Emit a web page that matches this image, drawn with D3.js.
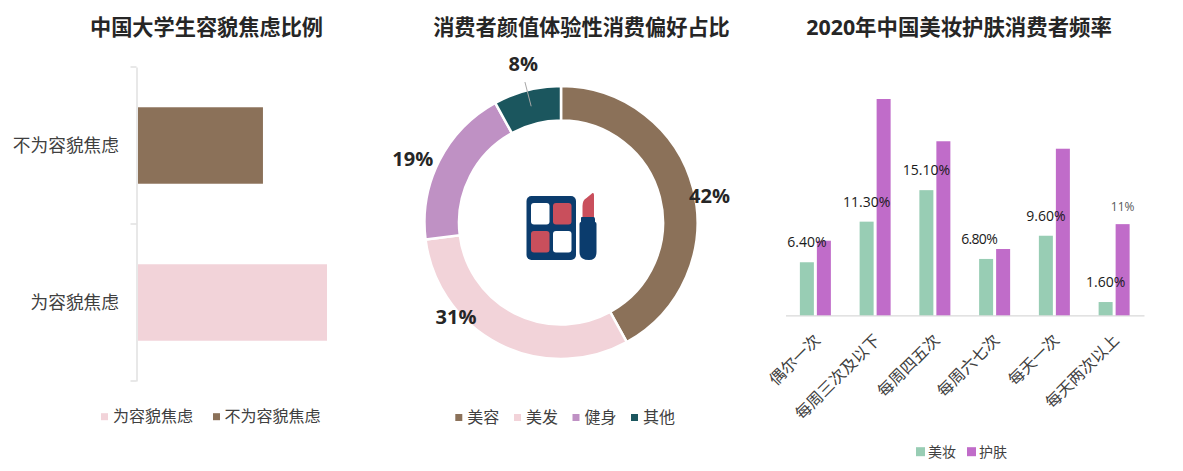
<!DOCTYPE html>
<html><head><meta charset="utf-8">
<script src="https://cdn.jsdelivr.net/npm/d3@7/dist/d3.min.js"></script>
<style>
html,body{margin:0;padding:0;background:#fff;}
svg{display:block;}
text{font-family:"Open Sans","Noto Sans CJK SC",sans-serif;}
</style></head><body>
<svg id="c" width="1183" height="471"></svg>
<script>
// ---- Data ----
const anxietyCats = ["不为容貌焦虑","为容貌焦虑"];
const anxietyVals = [39.8,60.2];
const anxietyLegend = ["为容貌焦虑","不为容貌焦虑"];
const donutCats = ["美容","美发","健身","其他"];
const donutVals = [42,31,19,8];
const donutLabels = ["42%","31%","19%","8%"];
const freqCats = ["偶尔一次","每周三次及以下","每周四五次","每周六七次","每天一次","每天两次以上"];
const makeupVals = [6.4,11.3,15.1,6.8,9.6,1.6];
const makeupLabels = ["6.40%","11.30%","15.10%","6.80%","9.60%","1.60%"];
const skinVals = [9,26.1,21,8,20.1,11];
const freqSeries = ["美妆","护肤"];

const BROWN="#8B7159",PINK="#F2D3D9",PURPLE="#BF91C4",TEAL="#1B565E",GREEN="#98CDB4",VIOLET="#C06CC9";
const AXIS="#d9d9d9",INK="#404040",DARK="#262626";
const svg=d3.select("#c");

function title(x,t,s){svg.append("text").attr("x",x).attr("y",34.5).attr("text-anchor","middle")
  .attr("font-size",s).attr("font-weight",700).attr("fill",DARK).text(t);}
function legend(items,y,size,box){items.forEach(d=>{
  svg.append("rect").attr("x",d.x).attr("y",y-box/2).attr("width",box).attr("height",box).attr("fill",d.c);
  svg.append("text").attr("x",d.x+box+d.g).attr("y",y).attr("dy","0.36em").attr("font-size",size).attr("fill",INK).text(d.t);
});}

// ---- Left: horizontal bars ----
title(206.5,"中国大学生容貌焦虑比例",21.2);
const y1=d3.scaleBand().domain(anxietyCats).range([67,381]).paddingInner(.513).paddingOuter(.2565);
const x1=d3.scaleLinear().domain([0,60.2]).range([138,327]);
const step1=y1.step();
const ax1=svg.append("g").attr("transform","translate(136.5,0)")
  .call(d3.axisLeft(y1).tickSize(0).tickPadding(17.5));
ax1.select(".domain").attr("stroke",AXIS).attr("stroke-width",1.2);
ax1.selectAll("text").attr("font-size",17.7).attr("fill",INK).attr("dy","0.34em");
[67,67+step1,381].forEach(v=>svg.append("line").attr("x1",130.5).attr("x2",136.5).attr("y1",v).attr("y2",v)
  .attr("stroke",AXIS).attr("stroke-width",1.2));
svg.selectAll(".b1").data(anxietyCats).join("rect").attr("class","b1")
  .attr("x",x1(0)).attr("y",d=>y1(d)).attr("height",y1.bandwidth())
  .attr("width",(d,i)=>x1(anxietyVals[i])-x1(0)).attr("fill",(d,i)=>i?PINK:BROWN);
legend([{x:101,t:anxietyLegend[0],c:PINK,g:5},{x:213,t:anxietyLegend[1],c:BROWN,g:4.5}],416.7,16,7);

// ---- Middle: donut ----
title(581.5,"消费者颜值体验性消费偏好占比",21.2);
const cx=561,cy=222.5,rO=136.5,rI=102;
const pie=d3.pie().sort(null)(donutVals);
const arc=d3.arc().innerRadius(rI).outerRadius(rO);
const gD=svg.append("g").attr("transform",`translate(${cx},${cy})`);
gD.selectAll("path").data(pie).join("path").attr("d",arc)
  .attr("fill",(d,i)=>[BROWN,PINK,PURPLE,TEAL][i]).attr("stroke","#fff").attr("stroke-width",2.5);
const midA=(pie[3].startAngle+pie[3].endAngle)/2;
gD.append("line").attr("x1",120*Math.sin(midA)).attr("y1",-120*Math.cos(midA))
  .attr("x2",145*Math.sin(midA)).attr("y2",-145*Math.cos(midA)).attr("stroke","#a6a6a6").attr("stroke-width",1);
const lblPos=[[148.5,-26.5],[-105,94.2],[-148.3,-63.8],[-37.7,-159.2]];
gD.selectAll(".dl").data(donutLabels).join("text").attr("class","dl")
  .attr("x",(d,i)=>lblPos[i][0]).attr("y",(d,i)=>lblPos[i][1]).attr("dy","0.36em")
  .attr("text-anchor","middle").attr("font-size",20).attr("font-weight",700).attr("fill",DARK).text(d=>d);
legend(donutCats.map((t,i)=>({x:[455.3,514,572.5,631][i],t,c:[BROWN,PINK,PURPLE,TEAL][i],g:5})),417.5,16,7);

// icon
const NAVY="#0B3C6D",RED="#C94F5C";
const ic=svg.append("g").attr("transform","translate(526.5,196)");
ic.append("rect").attr("width",49.5).attr("height",64).attr("rx",5).attr("fill",NAVY);
[[4.5,7,"#fff"],[26.5,7,RED],[4.5,35,RED],[26.5,35,"#fff"]].forEach(p=>
  ic.append("rect").attr("x",p[0]).attr("y",p[1]).attr("width",18.5).attr("height",21.5).attr("rx",3).attr("fill",p[2]));
ic.append("path").attr("d","M56 22 V10 Q56 4 60 2 L66 -3 Q67.5 -3.5 67.5 -1 V22 Z").attr("fill",RED);
ic.append("path").attr("d","M55 21 H67 Q68.5 21 68.5 23 V26 Q70 26 70 28 V56 Q70 64 62.5 64 Q53 64 53 56 V28 Q53 26 54.5 26 V23 Q54.5 21 55 21 Z").attr("fill",NAVY);

// ---- Right: grouped bars ----
title(959,"2020年中国美妆护肤消费者频率",21.4);
const x3=d3.scaleBand().domain(freqCats).range([785.5,1144]);
const y3=d3.scaleLinear().domain([0,26.1]).range([315.3,99]);
const barW=14,gap=3;
const ax3=svg.append("g").attr("transform","translate(0,315.3)")
  .call(d3.axisBottom(x3).tickSize(0).tickSizeOuter(0));
ax3.select(".domain").attr("stroke",AXIS).attr("stroke-width",1.2);
ax3.selectAll("text").attr("font-size",16).attr("fill",INK)
  .attr("text-anchor","end").attr("dx",0).attr("dy",0)
  .attr("transform","translate(6,26) rotate(-45)").attr("y",0).attr("x",0);
const left=d=>x3(d)+x3.bandwidth()/2-barW-gap/2;
svg.selectAll(".m").data(freqCats).join("rect").attr("class","m")
  .attr("x",d=>left(d)).attr("width",barW)
  .attr("y",(d,i)=>y3(makeupVals[i])).attr("height",(d,i)=>y3(0)-y3(makeupVals[i])).attr("fill",GREEN);
svg.selectAll(".s").data(freqCats).join("rect").attr("class","s")
  .attr("x",d=>left(d)+barW+gap).attr("width",barW)
  .attr("y",(d,i)=>y3(skinVals[i])).attr("height",(d,i)=>y3(0)-y3(skinVals[i])).attr("fill",VIOLET);
svg.selectAll(".ml").data(freqCats).join("text").attr("class","ml")
  .attr("x",(d,i)=>left(d)+barW/2+(i===3?-7:0)).attr("y",(d,i)=>y3(makeupVals[i])-20).attr("dy","0.36em")
  .attr("text-anchor","middle").attr("font-size",14).attr("fill","#1a1a1a")
  .attr("letter-spacing",(d,i)=>i===3?"-0.7px":null)
  .text((d,i)=>makeupLabels[i]);
svg.append("text").attr("x",left(freqCats[5])+barW+gap+barW/2).attr("y",y3(skinVals[5])-17).attr("dy","0.36em")
  .attr("text-anchor","middle").attr("font-size",12).attr("fill","#595959").text(skinVals[5]+"%");
legend([{x:916,t:freqSeries[0],c:GREEN,g:3},{x:967,t:freqSeries[1],c:VIOLET,g:3}],451.7,14,9);
</script>
</body></html>
